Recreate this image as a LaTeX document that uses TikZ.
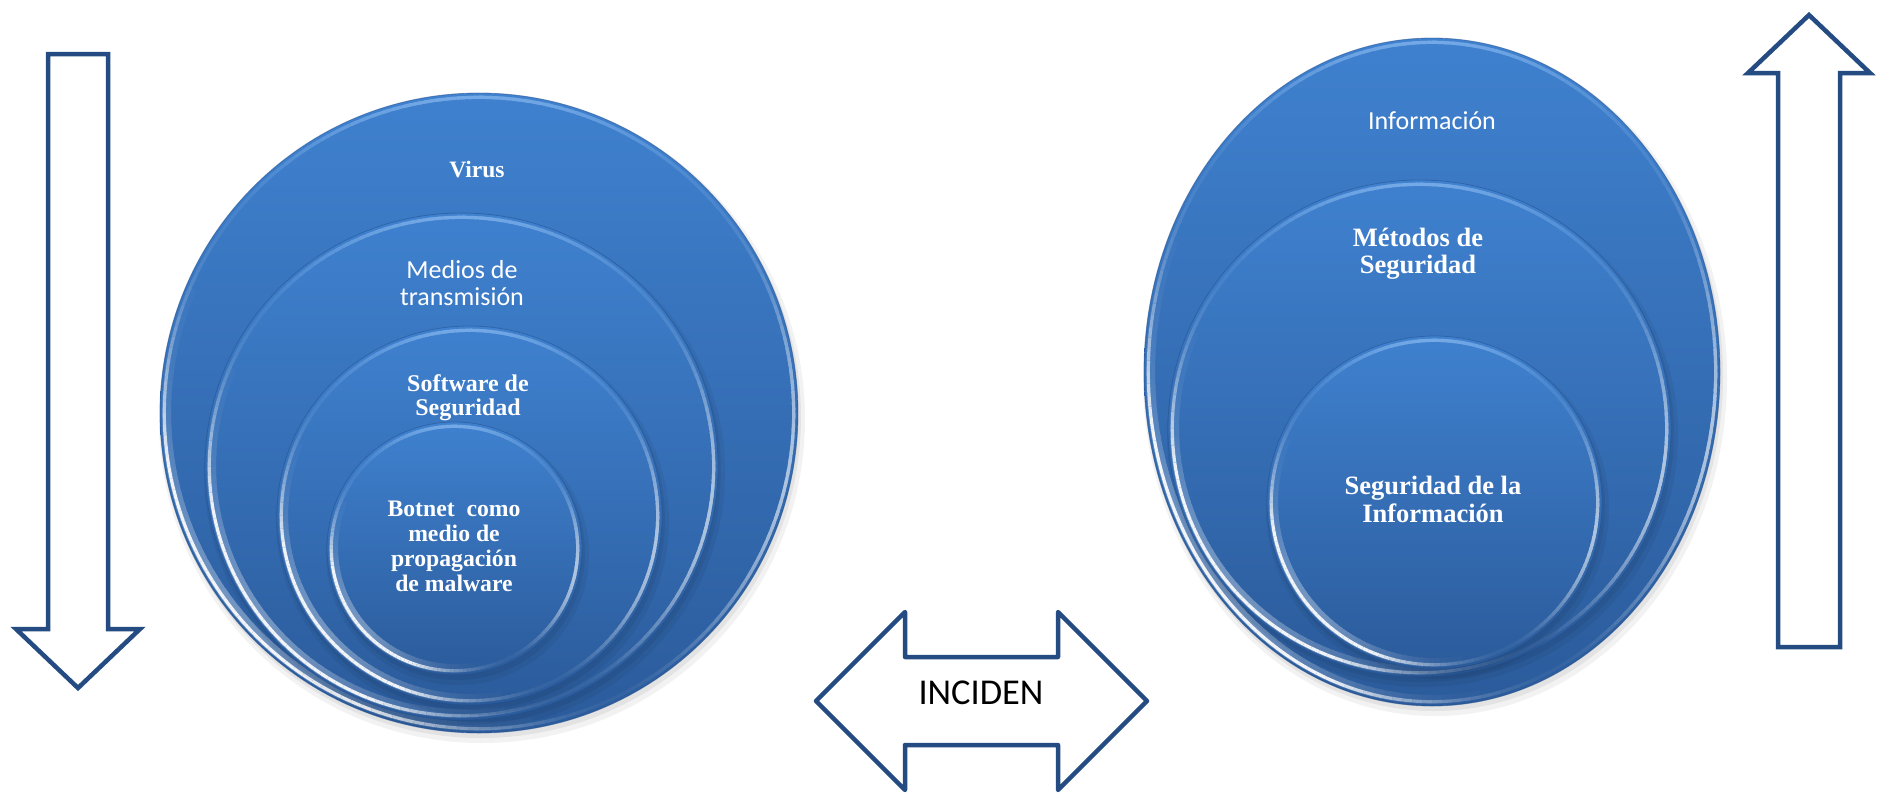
\documentclass[tikz,border=0pt]{standalone}
\usepackage{fontspec}
\setmainfont{Liberation Serif}
\newfontfamily\calib{Carlito}
\usetikzlibrary{shapes.geometric}
\definecolor{bubtop}{RGB}{63,129,207}
\definecolor{bubbot}{RGB}{43,91,155}
\definecolor{arrowblue}{RGB}{36,76,130}
\definecolor{rimtop}{RGB}{150,195,245}
\definecolor{edgedark}{RGB}{36,78,138}
\tikzset{
  bubble/.style={ellipse, inner sep=0pt, outer sep=0pt, top color=bubtop, bottom color=bubbot, draw=edgedark, line width=0.8pt, draw opacity=0.5},
  arrowline/.style={draw=arrowblue, line width=4.5pt, fill=white},
  lbl/.style={text=white, align=center, anchor=base, inner sep=0pt},
  sanslbl/.style={lbl, font=\calib\fontsize{26}{27}\selectfont}
}
\newcommand{\bubbleshape}[5]{%
  \fill[black,opacity=0.05] (#2+3,#3+6) ellipse [x radius=#4+4, y radius=#5+4];
  \fill[black,opacity=0.06] (#2+2,#3+4) ellipse [x radius=#4+1, y radius=#5+1];
  \node[bubble, minimum width={2*#4pt}, minimum height={2*#5pt}] (#1) at (#2,#3) {};
  \foreach \a in {0,2,...,358}{
    \pgfmathsetmacro\ca{max(0,cos(\a-140))}
    \pgfmathsetmacro\cb{max(0,cos(\a-10))}
    \pgfmathsetmacro\cc{max(0,cos(\a-268))}
    \pgfmathsetmacro\tp{50+50*sin(\a)}
    \pgfmathsetmacro\wp{100*min(0.93,1.4*\ca*\ca*\ca + 0.6*\cb*\cb*\cb*\cb*\cb*\cb)}
    \pgfmathsetmacro\gp{100*0.32*\ca*\ca*\ca*\ca}
    \pgfmathsetmacro\ttp{100*0.6*\cc*\cc*\cc*\cc}
    \colorlet{rb}{bubbot!\tp!bubtop}
    \ifdim\gp pt>2pt
      \colorlet{gl}{white!\gp!rb}
      \draw[gl, line width=9pt] ({#2+(#4-6.5)*cos(\a)},{#3+(#5-6.5)*sin(\a)}) arc[start angle=\a, end angle=\a+3.5, x radius=#4-6.5, y radius=#5-6.5];
    \fi
    \pgfmathsetmacro\sp{\wp+\ttp}
    \ifdim\sp pt>2pt
      \colorlet{c1}{rimtop!\ttp!rb}
      \colorlet{c2}{white!\wp!c1}
      \draw[c2, line width=3.2pt] ({#2+(#4-4.3)*cos(\a)},{#3+(#5-4.3)*sin(\a)}) arc[start angle=\a, end angle=\a+3.5, x radius=#4-4.3, y radius=#5-4.3];
    \fi
  }
}
\begin{document}
\begin{tikzpicture}[x=1pt,y=-1pt]
\useasboundingbox (0,0) rectangle (1885,793);
\fill[white] (0,0) rectangle (1885,793);

% left arrow (down)
\draw[arrowline] (48,54) -- (108,54) -- (108,629) -- (140,629) -- (78,688) -- (16,629) -- (48,629) -- cycle;
% right arrow (up)
\draw[arrowline] (1778,647) -- (1778,73) -- (1748,73) -- (1809,15) -- (1870,73) -- (1840,73) -- (1840,647) -- cycle;
% double arrow
\draw[arrowline, line join=round] (816,701) -- (905,612) -- (905,657) -- (1058,657) -- (1058,612) -- (1147,701) -- (1058,790) -- (1058,745) -- (905,745) -- (905,790) -- cycle;

% left group
\bubbleshape{virus}{479}{413}{319}{320}
\bubbleshape{medios}{461.5}{466.5}{256.5}{253.5}
\bubbleshape{software}{469.5}{515.5}{192.5}{189.5}
\bubbleshape{botnet}{454.5}{548.5}{127.5}{126.5}

% right group
\bubbleshape{info}{1432}{372}{288}{334}
\bubbleshape{metodos}{1419.5}{428.5}{251.5}{248.5}
\bubbleshape{seginfo}{1434.5}{502.5}{167.5}{166.5}

% labels (base anchor = baseline of last line)
\node[lbl, font=\bfseries\fontsize{23.5}{26}\selectfont] (tvirus) at (477,177) {Virus};
\node[sanslbl] (tmedios) at (462,305) {Medios de\\transmisión};
\node[lbl, font=\bfseries\fontsize{24}{23.3}\selectfont] (tsoftware) at (468,415) {Software de\\Seguridad};
\node[lbl, font=\bfseries\fontsize{23.7}{24.7}\selectfont] (tbotnet) at (454,591) {Botnet\ \ como\\medio de\\propagación\\de malware};
\node[sanslbl] (tinfo) at (1432,129) {Información};
\node[lbl, font=\bfseries\fontsize{26.5}{27}\selectfont] (tmetodos) at (1418,273) {Métodos de\\Seguridad};
\node[lbl, font=\bfseries\fontsize{26.5}{28}\selectfont] (tseginfo) at (1433,522) {Seguridad de la\\Información};
\node[anchor=base, inner sep=0pt, text=black, font=\calib\fontsize{36.4}{40}\selectfont] (tinciden) at (981,704) {INCIDEN};
\end{tikzpicture}
\end{document}
